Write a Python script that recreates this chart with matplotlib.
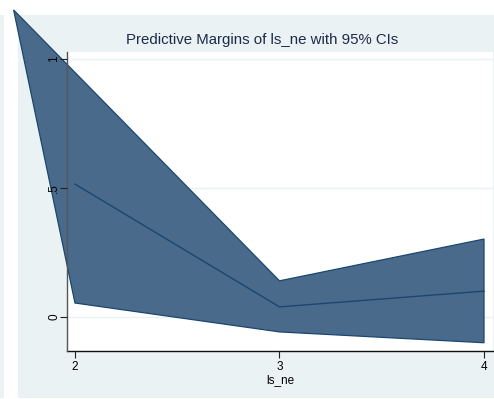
import matplotlib
matplotlib.use("Agg")
import matplotlib.pyplot as plt
from matplotlib.patches import Rectangle

plt.rcParams['font.family'] = ['Liberation Sans', 'DejaVu Sans']

# margins of ls_ne
levels = [2, 3, 4]
margin = [0.515, 0.039, 0.10]
ci_low = [0.054, -0.058, -0.10]
# upper edge of the CI area as it was drawn (first point runs off the plot)
ci_high_x = [1.70, 3, 4]
ci_high = [1.19, 0.14, 0.302]

xticks = [2, 3, 4]
yticks = [0, 0.5, 1]
ytick_labels = ['0', '.5', '1']

bg = '#EAF2F3'
fill_c = '#4A6A8B'
line_c = '#1A476F'

fig = plt.figure(figsize=(4.94, 3.99), dpi=100, facecolor='white')
W, H = 494, 399

# stata graph region
fig.add_artist(Rectangle((18 / W, 1 / H), 476 / W, 383 / H,
                         transform=fig.transFigure, facecolor=bg,
                         edgecolor='none', zorder=-5))
fig.add_artist(Rectangle((0, 1 / H), 4 / W, 383 / H,
                         transform=fig.transFigure, facecolor=bg,
                         edgecolor='none', zorder=-5))

ax = fig.add_axes([67 / W, 48 / H, 426 / W, 299 / H])
ax.set_zorder(2)
ax.set_facecolor('white')

poly_x = ci_high_x + levels[::-1]
poly_y = ci_high + ci_low[::-1]
ax.fill(poly_x, poly_y, facecolor=fill_c, edgecolor=line_c, linewidth=0.9,
        clip_on=False, zorder=3)
ax.plot(levels, margin, color=line_c, linewidth=1.0, zorder=4)

ax.set_xlim(1.961, 4.044)
ax.set_ylim(-0.132, 1.027)

for y in yticks:
    ax.axhline(y, color=bg, linewidth=1.0, zorder=1)

ax.set_xticks(xticks)
ax.set_xticklabels([str(v) for v in xticks], fontsize=8.5)
ax.set_yticks(yticks)
ax.set_yticklabels(ytick_labels, fontsize=8.5, rotation=90, va='center')
ax.tick_params(direction='out', length=5, width=0.8, color='#222222', pad=2)
ax.tick_params(axis='y', pad=0)
ax.yaxis.set_zorder(6)
ax.xaxis.set_zorder(6)

for s in ['top', 'right']:
    ax.spines[s].set_visible(False)
ax.spines['left'].set_color('#555555')
ax.spines['bottom'].set_color('#111111')
ax.spines['left'].set_linewidth(1.0)
ax.spines['bottom'].set_linewidth(1.0)
ax.spines['left'].set_zorder(5)

ax.set_xlabel('ls_ne', fontsize=8.5, labelpad=1)
fig.text(262 / W, 1 - 40 / H, 'Predictive Margins of ls_ne with 95% CIs',
         fontsize=10.8, color='#1E2A4A', ha='center', va='center')

fig.savefig('out.png', dpi=100, facecolor='white')
